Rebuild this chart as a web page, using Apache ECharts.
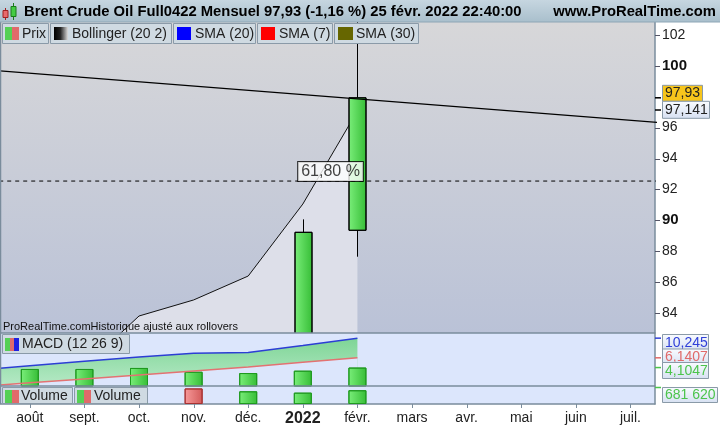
<!DOCTYPE html>
<html><head><meta charset="utf-8">
<script src="https://cdn.jsdelivr.net/npm/echarts@6/dist/echarts.min.js"></script>
<style>html,body{margin:0;padding:0;background:#fff}#c{width:720px;height:430px}</style>
</head><body><div id="c"></div>
<script>
// ---------- data ----------
const months = ['août','sept.','oct.','nov.','déc.','2022','févr.','mars','avr.','mai','juin','juil.'];
const monthIdx = [0,1,2,3,4,5,6,7,8,9,10,11];
const priceTicks = [84,86,88,90,92,94,96,98,100,102];
// candles (month index, open, close, low, high)
const candleIdx = [5, 6];
const candleOpen = [78.2, 89.35];
const candleClose = [89.22, 97.93];
const candleLow = [77.5, 87.64];
const candleHigh = [90.06, 105.6];
// Bollinger upper band
const bollIdx = [1, 2, 3, 4, 5, 6];
const bollUpper = [80.5, 83.8, 84.84, 86.39, 91.05, 97.08];
// trend line
const trendIdx = [-1, 12];
const trendVal = [99.80, 96.20];
// fibonacci level
const fiboIdx = [-1, 12];
const fiboLevel = 92.54;
const fiboLabel = '61,80 %';
const fiboLabelIdx = 5.507;
// MACD
const macdIdx = [-1, 0, 1, 2, 3, 4, 5, 6];
const macdLine = [3.5, 4.5, 5.4, 6.3, 7.1, 7.25, 8.7, 10.245];
const signalLine = [0.1, 0.92, 1.74, 2.57, 3.4, 4.2, 5.2, 6.1407];
const histIdx = [0, 1, 2, 3, 4, 5, 6];
const histVal = [3.81, 3.81, 4.02, 3.23, 2.96, 3.45, 4.1047];
// Volume
const volIdx = [0, 1, 2, 3, 4, 5, 6];
const volVal = [600000, 640000, 770000, 770000, 629000, 561000, 681620];
const volUp = [true, true, true, false, true, true, true];
// texts
const titleText = 'Brent Crude Oil Full0422 Mensuel 97,93 (-1,16 %) 25 févr. 2022 22:40:00';
const siteText = 'www.ProRealTime.com';
const noteText = 'ProRealTime.comHistorique ajusté aux rollovers';
const lastPrice = 97.93, lastPriceLabel = '97,93';
const trendPrice = 97.141, trendPriceLabel = '97,141';
const macdLabels = ['10,245', '6,1407', '4,1047'];
const volLabel = '681 620';

// ---------- styles ----------
const FONT = 'Liberation Sans, Arial, sans-serif';
const BORDER = '#7a8c9c';
const PANEL = '#dce6fc';
const XMIN = -0.546, XMAX = 11.45;
const grn = () => new echarts.graphic.LinearGradient(0,0,1,0,[{offset:0,color:'#7aee7a'},{offset:1,color:'#36bd36'}]);
const red = () => new echarts.graphic.LinearGradient(0,0,1,0,[{offset:0,color:'#f79a9a'},{offset:1,color:'#d25a5a'}]);

const chart = echarts.init(document.getElementById('c'), null, {renderer:'canvas'});

const grids = [
  {left:0, right:65, top:22, height:311},
  {left:0, right:65, top:333, height:53},
  {left:0, right:65, top:386, height:18}
].map(g => Object.assign(g, {containLabel:false, outerBoundsMode:'none'}));

const xBase = {type:'value', min:XMIN, max:XMAX, splitLine:{show:false}, axisLine:{show:false, onZero:false}, axisTick:{show:false}, axisLabel:{show:false}};
const yLine = {show:true, onZero:false, lineStyle:{color:BORDER, width:1.5}};

const option = {
  animation:false,
  backgroundColor:'#fff',
  textStyle:{fontFamily:FONT},
  grid: grids,
  xAxis: [
    Object.assign({gridIndex:0}, xBase),
    Object.assign({gridIndex:1}, xBase),
    {type:'value', gridIndex:2, min:XMIN, max:XMAX, splitLine:{show:false},
     axisLine:{show:true, onZero:false, lineStyle:{color:BORDER, width:1.5}},
     axisTick:{show:false},
     axisLabel:{show:true, customValues:monthIdx, margin:7, fontSize:14, color:'#222', fontFamily:FONT,
       formatter: v => { const m = months[Math.round(v)]; return m === '2022' ? '{b|' + m + '}' : m; },
       rich:{b:{fontWeight:'bold', fontSize:16, color:'#222', fontFamily:FONT}}}}
  ],
  yAxis: [
    {type:'value', gridIndex:0, position:'right', min:82.70, max:102.84, splitLine:{show:false},
     axisLine:yLine, axisTick:{show:false},
     axisLabel:{show:true, customValues:priceTicks, margin:7, fontSize:14, color:'#222', fontFamily:FONT,
       formatter: v => (v % 10 === 0 ? '{b|' + v + '}' : '' + v),
       rich:{b:{fontWeight:'bold', fontSize:15, color:'#111', fontFamily:FONT}}}},
    {type:'value', gridIndex:1, position:'right', min:0.255, max:11.32, splitLine:{show:false},
     axisLine:yLine, axisTick:{show:false}, axisLabel:{show:false}},
    {type:'value', gridIndex:2, position:'right', min:0, max:891350, splitLine:{show:false},
     axisLine:yLine, axisTick:{show:false}, axisLabel:{show:false}}
  ],
  series: [
    {type:'line', name:'Bollinger', xAxisIndex:0, yAxisIndex:0, symbol:'none',
     data: bollIdx.map((x,i)=>[x, bollUpper[i]]),
     lineStyle:{color:'#111', width:1}, areaStyle:{color:'#dddfe9', opacity:1, origin:'start'}, z:1},
    {type:'line', name:'trend', xAxisIndex:0, yAxisIndex:0, symbol:'none',
     data: trendIdx.map((x,i)=>[x, trendVal[i]]), lineStyle:{color:'#000', width:1.3}, z:5},
    {type:'line', name:'fibo', xAxisIndex:0, yAxisIndex:0, symbol:'none',
     data: fiboIdx.map(x=>[x, fiboLevel]), lineStyle:{color:'#000', width:1, type:[4,4]}, z:4},
    {type:'custom', name:'Prix', xAxisIndex:0, yAxisIndex:0, clip:true, z:3,
     data: candleIdx.map((x,i)=>[x, candleOpen[i], candleClose[i], candleLow[i], candleHigh[i]]),
     renderItem: (params, api) => {
       const i = api.value(0), o = api.value(1), c = api.value(2), l = api.value(3), h = api.value(4);
       const pO = api.coord([i,o]), pC = api.coord([i,c]), pL = api.coord([i,l]), pH = api.coord([i,h]);
       const w = Math.round(api.size([1,0])[0] * 0.31);
       const xc = Math.round(pO[0]) + 0.5;
       const top = Math.min(pO[1], pC[1]), bot = Math.max(pO[1], pC[1]);
       return {type:'group', children:[
         {type:'line', shape:{x1:xc, y1:pH[1], x2:xc, y2:pL[1]}, style:{stroke:'#000', lineWidth:1}},
         {type:'rect', shape:{x:xc - w/2, y:top, width:w, height:bot-top},
          style:{fill: c >= o ? grn() : red(), stroke:'#000', lineWidth:1}}
       ]};
     }},
    {type:'scatter', name:'fiboLabel', xAxisIndex:0, yAxisIndex:0, symbolSize:0, z:10,
     data:[[fiboLabelIdx, fiboLevel]],
     label:{show:true, position:'top', distance:0, formatter:fiboLabel, fontSize:16, color:'#111', fontFamily:FONT,
       backgroundColor:'#fff', borderColor:'#000', borderWidth:1, padding:[2,3,1,3]}},
    // MACD: green fill between MACD and signal
    {type:'line', name:'fillTop', xAxisIndex:1, yAxisIndex:1, symbol:'none',
     data: macdIdx.map((x,i)=>[x, macdLine[i]]), lineStyle:{opacity:0},
     areaStyle:{opacity:1, origin:'start', color:new echarts.graphic.LinearGradient(0,0,0,1,[{offset:0,color:'#7ed596'},{offset:1,color:'#b6e9c6'}])}, z:1},
    {type:'line', name:'fillBase', xAxisIndex:1, yAxisIndex:1, symbol:'none',
     data: macdIdx.map((x,i)=>[x, signalLine[i]]), lineStyle:{opacity:0},
     areaStyle:{opacity:1, origin:'start', color:PANEL}, z:1.5},
    {type:'bar', name:'hist', xAxisIndex:1, yAxisIndex:1, barWidth:18, z:3,
     data: histIdx.map((x,i)=>[x, histVal[i]]),
     itemStyle:{color:grn(), borderColor:'#1f9a1f', borderWidth:1}},
    {type:'line', name:'MACD', xAxisIndex:1, yAxisIndex:1, symbol:'none',
     data: macdIdx.map((x,i)=>[x, macdLine[i]]), lineStyle:{color:'#2c3ed4', width:1.5}, z:4},
    {type:'line', name:'signal', xAxisIndex:1, yAxisIndex:1, symbol:'none',
     data: macdIdx.map((x,i)=>[x, signalLine[i]]), lineStyle:{color:'#e37272', width:1.5}, z:4},
    // Volume
    {type:'bar', name:'Volume', xAxisIndex:2, yAxisIndex:2, barWidth:18, z:3,
     data: volIdx.map((x,i)=>({value:[x, volVal[i]],
       itemStyle:{color: volUp[i] ? grn() : red(), borderColor: volUp[i] ? '#1f9a1f' : '#a83232', borderWidth:1}}))}
  ]
};
chart.setOption(option);

// ---------- overlay graphics ----------
function px(gi, v) { return chart.convertToPixel({xAxisIndex:gi, yAxisIndex:gi}, [0, v])[1]; }
function pxX(gi, v) { return chart.convertToPixel({xAxisIndex:gi, yAxisIndex:gi}, [v, 0])[0]; }
const g = [];
// panel backgrounds
g.push({type:'rect', z:-10, silent:true, shape:{x:0,y:22,width:655,height:311},
  style:{fill:new echarts.graphic.LinearGradient(0,0,0,1,[{offset:0,color:'#d7d7d9'},{offset:1,color:'#bac2d7'}])}});
g.push({type:'rect', z:-10, silent:true, shape:{x:0,y:333,width:655,height:71}, style:{fill:PANEL}});
// separators and borders
[333, 386].forEach(y => g.push({type:'line', z:50, silent:true, shape:{x1:0,y1:y,x2:655,y2:y}, style:{stroke:BORDER, lineWidth:1.5}}));
g.push({type:'line', z:50, silent:true, shape:{x1:0.5,y1:22,x2:0.5,y2:404}, style:{stroke:BORDER, lineWidth:1.5}});
// price axis ticks
priceTicks.forEach(v => { const y = Math.round(px(0, v)) + 0.5;
  g.push({type:'line', z:50, silent:true, shape:{x1:655,y1:y,x2:660,y2:y}, style:{stroke:'#556', lineWidth:1}}); });
// month ticks
monthIdx.forEach(i => { const x = Math.round(pxX(2, i)) + 0.5;
  g.push({type:'line', z:50, silent:true, shape:{x1:x,y1:404,x2:x,y2:408}, style:{stroke:BORDER, lineWidth:1}}); });
// title bar
g.push({type:'rect', z:60, silent:true, shape:{x:0,y:0,width:720,height:22},
  style:{fill:new echarts.graphic.LinearGradient(0,0,0,1,[{offset:0,color:'#c6d6e0'},{offset:1,color:'#a9bfcc'}])}});
g.push({type:'line', z:61, silent:true, shape:{x1:0,y1:22,x2:720,y2:22}, style:{stroke:'#8ea6b6', lineWidth:1}});
// header icon
g.push({type:'line', z:61, shape:{x1:5.5,y1:8,x2:5.5,y2:20}, style:{stroke:'#a02020'}});
g.push({type:'rect', z:62, shape:{x:3,y:10.5,width:5,height:7}, style:{fill:'#e86a6a', stroke:'#a02020'}});
g.push({type:'line', z:61, shape:{x1:13.5,y1:3,x2:13.5,y2:20}, style:{stroke:'#1a7a1a'}});
g.push({type:'rect', z:62, shape:{x:11,y:6.5,width:5,height:10}, style:{fill:'#44cc44', stroke:'#1a7a1a'}});
g.push({type:'text', z:62, style:{x:24, y:11.5, text:titleText, font:'bold 14.8px ' + FONT, fill:'#000', verticalAlign:'middle'}});
g.push({type:'text', z:62, style:{x:716, y:11.5, text:siteText, font:'bold 14.8px ' + FONT, fill:'#000', align:'right', verticalAlign:'middle'}});
// legend row
const legendBoxes = [[2,48],[50,171],[173,255],[257,332],[334,418]];
const legendNames = ['Prix','Bollinger (20 2)','SMA (20)','SMA (7)','SMA (30)'];
const legendTextX = [22, 72, 195, 279, 356];
legendBoxes.forEach((b,i) => {
  g.push({type:'rect', z:70, shape:{x:b[0]+0.5,y:23.5,width:b[1]-b[0],height:20}, style:{fill:'#cfdae2', stroke:'#8a9aa8', lineWidth:1}});
  g.push({type:'text', z:72, style:{x:legendTextX[i], y:34, text:legendNames[i], font:'14px ' + FONT, fill:'#222', verticalAlign:'middle'}});
});
g.push({type:'rect', z:71, shape:{x:5,y:27,width:7,height:13}, style:{fill:'#55d055'}});
g.push({type:'rect', z:71, shape:{x:12,y:27,width:7,height:13}, style:{fill:'#e06a6a'}});
g.push({type:'rect', z:71, shape:{x:54,y:27,width:14,height:13},
  style:{fill:new echarts.graphic.LinearGradient(0,0,1,0,[{offset:0,color:'#000'},{offset:0.45,color:'#222'},{offset:1,color:'#dcdcdc'}])}});
g.push({type:'rect', z:71, shape:{x:177,y:27,width:14,height:13}, style:{fill:'#0000ff'}});
g.push({type:'rect', z:71, shape:{x:261,y:27,width:14,height:13}, style:{fill:'#ff0000'}});
g.push({type:'rect', z:71, shape:{x:338,y:27,width:15,height:13}, style:{fill:'#666600'}});
// note text
g.push({type:'text', z:40, style:{x:3, y:327, text:noteText, font:'11px ' + FONT, fill:'#111', verticalAlign:'middle'}});
// MACD legend
g.push({type:'rect', z:70, shape:{x:2.5,y:334.5,width:127,height:19}, style:{fill:'#cfdae2', stroke:'#8a9aa8'}});
g.push({type:'rect', z:71, shape:{x:5,y:338,width:5,height:13}, style:{fill:'#55d055'}});
g.push({type:'rect', z:71, shape:{x:10,y:338,width:4,height:13}, style:{fill:'#e06a6a'}});
g.push({type:'rect', z:71, shape:{x:14,y:338,width:5,height:13}, style:{fill:'#2020e0'}});
g.push({type:'text', z:72, style:{x:22, y:344.5, text:'MACD (12 26 9)', font:'14px ' + FONT, fill:'#222', verticalAlign:'middle'}});
// Volume legends
[[2,72,5,21],[74,147,77,94]].forEach(b => {
  g.push({type:'rect', z:70, shape:{x:b[0]+0.5,y:387.5,width:b[1]-b[0],height:16}, style:{fill:'#cfdae2', stroke:'#8a9aa8'}});
  g.push({type:'rect', z:71, shape:{x:b[2],y:390,width:7,height:13}, style:{fill:'#55d055'}});
  g.push({type:'rect', z:71, shape:{x:b[2]+7,y:390,width:7,height:13}, style:{fill:'#e06a6a'}});
  g.push({type:'text', z:72, style:{x:b[3], y:396, text:'Volume', font:'14px ' + FONT, fill:'#222', verticalAlign:'middle'}});
});
// right-axis value boxes
const boxFill = () => new echarts.graphic.LinearGradient(0,0,0,1,[{offset:0,color:'#fafcff'},{offset:1,color:'#d6e0f2'}]);
const yLast = px(0, lastPrice), yTrend = px(0, trendPrice);
g.push({type:'line', z:80, shape:{x1:655,y1:yLast,x2:661,y2:yLast}, style:{stroke:'#000', lineWidth:1.5}});
g.push({type:'line', z:80, shape:{x1:655,y1:yTrend,x2:661,y2:yTrend}, style:{stroke:'#000', lineWidth:1.5}});
g.push({type:'rect', z:81, shape:{x:662.5,y:yLast-12.5,width:40,height:16}, style:{fill:'#f7c51c', stroke:'#8a9aa8'}});
g.push({type:'text', z:82, style:{x:665, y:yLast-4.5, text:lastPriceLabel, font:'14px ' + FONT, fill:'#222', verticalAlign:'middle'}});
g.push({type:'rect', z:83, shape:{x:662.5,y:yLast+3.5,width:47,height:17}, style:{fill:boxFill(), stroke:'#8a9aa8'}});
g.push({type:'text', z:84, style:{x:665, y:yLast+12, text:trendPriceLabel, font:'14px ' + FONT, fill:'#222', verticalAlign:'middle'}});
// MACD value boxes
const macdColors = ['#3040d8', '#e06a6a', '#4cc44c'];
const macdVals = [macdLine[macdLine.length-1], signalLine[signalLine.length-1], histVal[histVal.length-1]];
const macdBoxTop = [334, 348.5, 362];
macdVals.forEach((v,i) => {
  const y = px(1, v);
  g.push({type:'line', z:80, shape:{x1:655,y1:y,x2:661,y2:y}, style:{stroke:macdColors[i], lineWidth:1.5}});
  g.push({type:'rect', z:81+2*i, shape:{x:662.5,y:macdBoxTop[i]+0.5,width:46,height:16}, style:{fill:boxFill(), stroke:'#8a9aa8'}});
  g.push({type:'text', z:82+2*i, style:{x:665, y:macdBoxTop[i]+9, text:macdLabels[i], font:'14px ' + FONT, fill:macdColors[i], verticalAlign:'middle'}});
});
// volume value box
g.push({type:'line', z:80, shape:{x1:655,y1:387.5,x2:661,y2:387.5}, style:{stroke:'#4cc44c', lineWidth:1.5}});
g.push({type:'rect', z:81, shape:{x:662.5,y:387.5,width:55,height:15}, style:{fill:boxFill(), stroke:'#8a9aa8'}});
g.push({type:'text', z:82, style:{x:665, y:395.5, text:volLabel, font:'14px ' + FONT, fill:'#4cc44c', verticalAlign:'middle'}});

chart.setOption({graphic:{elements:g}});
</script>
</body></html>
